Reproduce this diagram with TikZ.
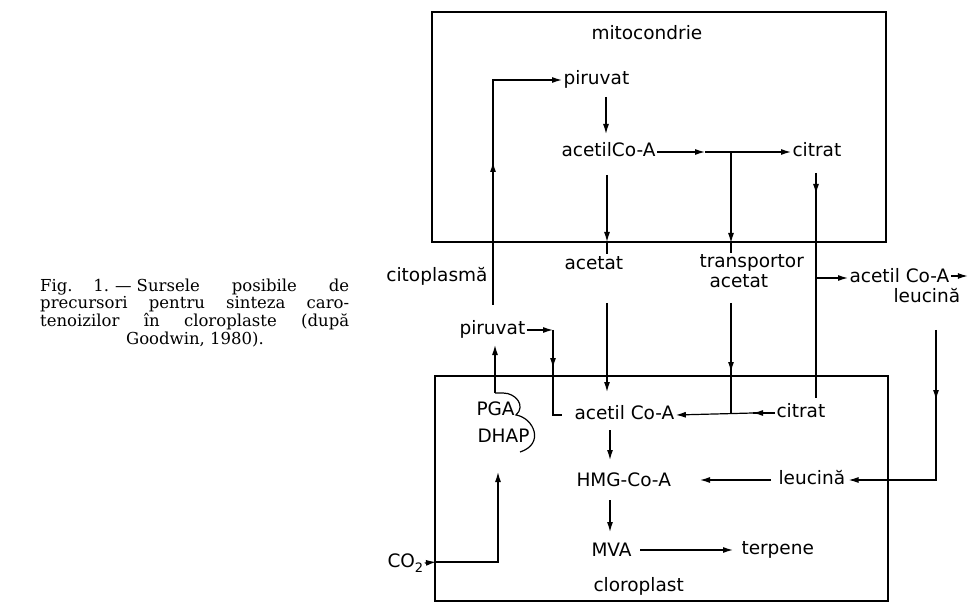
\documentclass[tikz,border=0pt]{standalone}
\usepackage{fontspec}
\newfontfamily\dv{DejaVu Sans}
\newfontfamily\capfont{DejaVu Serif}
\usetikzlibrary{arrows.meta}
\begin{document}
\begin{tikzpicture}[x=1pt,y=-1pt,
  lbl/.style={font=\dv\fontsize{18.5}{20}\selectfont, inner sep=1.5pt, outer sep=0pt,
              text height=13.5pt, text depth=3.7pt, anchor=west},
  ln/.style={line width=1.2pt},
  arr/.style={line width=1.2pt, -{Latex[length=10pt,width=6pt]}},
  box/.style={line width=2.4pt},
  captxt/.style={font=\capfont\fontsize{16.5}{17.5}\selectfont, inner sep=0pt, anchor=west}]
\useasboundingbox (0,0) rectangle (978,604);
% compartments
\draw[box] (432,12) rectangle (886,242);
\draw[box] (435,376) rectangle (888,601);
% caption
\node[captxt] (c1) at (40,287) {\makebox[309pt][s]{Fig.\hspace{4pt plus 0.6fil}1.\kern6pt—\kern5pt Sursele\hspace{4pt plus 1fil}posibile\hspace{4pt plus 1fil}de}};
\node[captxt] (c2) at (40,304.5) {\makebox[309pt][s]{precursori pentru sinteza caro-}};
\node[captxt] (c3) at (40,322) {\makebox[309pt][s]{tenoizilor în cloroplaste (după}};
\node[captxt, anchor=center] (c4) at (195,339.5) {Goodwin, 1980).};
% labels
\node[lbl] (mito) at (590,35) {mitocondrie};
\node[lbl] (pirM) at (562,80) {piruvat};
\node[lbl] (acM) at (560,152) {acetilCo-A};
\node[lbl] (citM) at (791,152) {citrat};
\node[lbl, anchor=east] (citop) at (489,277) {citoplasmă};
\node[lbl] (acet) at (563,265) {acetat};
\node[lbl] (tr1) at (698,263) {transportor};
\node[lbl] (tr2) at (708,283) {acetat};
\node[lbl] (acCy) at (848,278) {acetil Co-A};
\node[lbl] (leuCy) at (892,298) {leucină};
\node[lbl] (pirC) at (458,330) {piruvat};
\node[lbl] (pga) at (475,411) {PGA};
\node[lbl] (dhap) at (476,438) {DHAP};
\node[lbl] (acC) at (573,415) {acetil Co-A};
\node[lbl] (citC) at (775,413) {citrat};
\node[lbl] (hmg) at (575,482) {HMG-Co-A};
\node[lbl] (leuC) at (777,480) {leucină};
\node[lbl] (mva) at (590,552) {MVA};
\node[lbl] (terp) at (740,550) {terpene};
\node[lbl] (clor) at (592,587) {cloroplast};
\node[lbl] (co2) at (386,563) {CO\raisebox{-0.45ex}{\fontsize{13}{13}\selectfont 2}};
% coordinates
\coordinate (j1) at (731,152);
\coordinate (m1) at (705,152);
\coordinate (up0) at (493,305);
\coordinate (up1) at (493,162);
\coordinate (cit0) at (816,173);
\coordinate (cit1) at (816,194);
\coordinate (cit2) at (816,398);
\coordinate (br) at (816,278);
\coordinate (j2) at (731,413);
\coordinate (m2) at (753,413);
\coordinate (l0) at (936,330);
\coordinate (l1) at (936,400);
\coordinate (p1) at (553,330);
\coordinate (p2) at (553,368);
\coordinate (p3) at (553,415);
\coordinate (p4) at (562,415);
\coordinate (w) at (436,562);
\coordinate (q1) at (498,472);
% mitochondrion connectors
\draw[arr] (up0) -- (up1);
\draw[ln] (up1) -- (493,170);
\draw[arr] (up1) |- (pirM.west);
\draw[arr] (606,97) -- (606,134);
\draw[arr] (acM.east) -- (m1);
\draw[arr] (m1) -- (citM.west);
\draw[ln] (m1) -- (j1);
\draw[arr] (j1) -- (731,243);
\draw[ln] (731,243) -- (tr1.north -| j1);
\draw[arr] (607,175) -- (607,242);
\draw[ln] (607,242) -- (607,254);
\draw[arr] (cit0) -- (cit1);
\draw[ln] (cit1) -- (cit2);
\draw[ln] (816,186) -- (cit1);
\draw[arr] (br) -- (acCy.west);
\draw[arr] ([yshift=2pt]acCy.east) -- ++(17,0);
% cytoplasm to chloroplast
\draw[arr] (l0) -- (l1);
\draw[ln] (936,392) -- (l1);
\draw[arr] (l1) |- ([xshift=2pt]leuC.east);
\draw[arr] (731,303) -- (731,372);
\draw[ln] (731,364) -- (j2);
\draw[arr] (607,303) -- (607,392);
\draw[arr] (pirC.east) -- (p1);
\draw[arr] (p1) -- (p2);
\draw[ln] (553,360) -- (p3) -- (p4);
\draw[arr] (495,393) -- (495,345);
% PGA / DHAP bracket
\draw[ln] (495,393) -- (503,393) .. controls (516,393) and (526,406) .. (516,415)
  .. controls (534,418) and (545,444) .. (520,452);
% chloroplast connectors
\draw[arr] (citC.west) -- (m2);
\draw[arr] (m2) -- (acC.east);
\draw[ln] (m2) -- (760,413);
\draw[arr] ([xshift=-6pt]leuC.west) -- (700,480);
\draw[arr] (610,430) -- (610,460);
\draw[arr] (610,500) -- (610,532);
\draw[arr] (640,550) -- (733,550);
\draw[arr] (co2.east) -- (w);
\draw[arr] (w) -| (q1);
\end{tikzpicture}
\end{document}
